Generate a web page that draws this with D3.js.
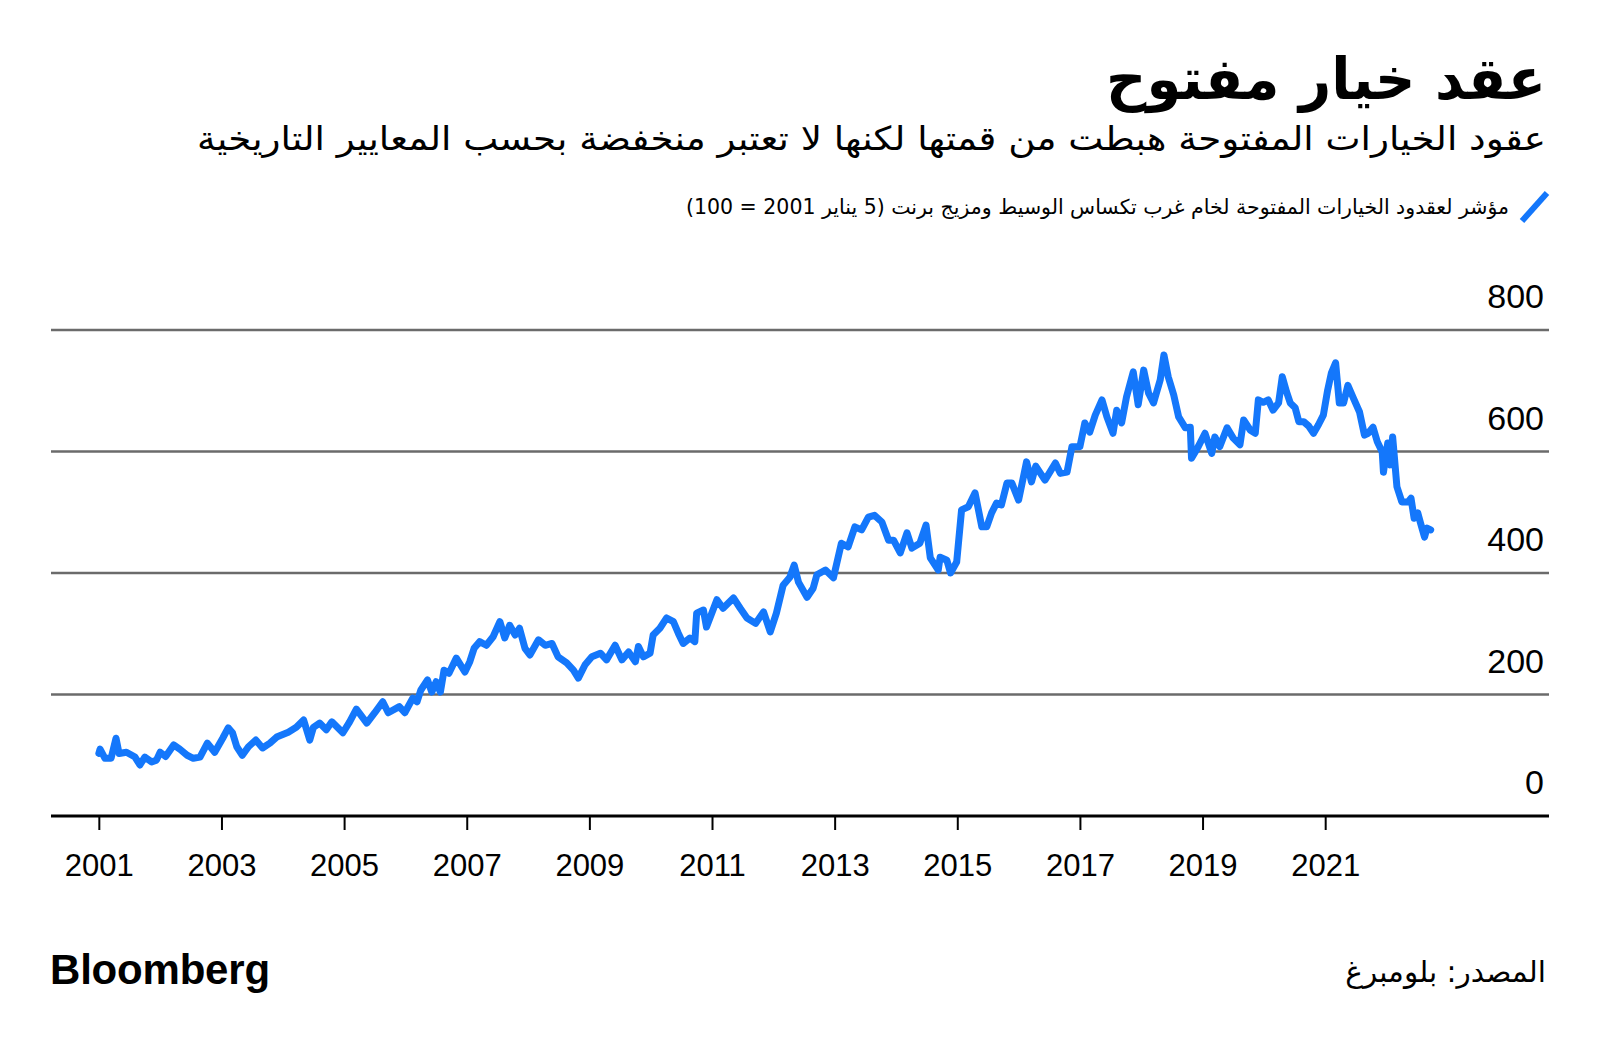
<!DOCTYPE html>
<html>
<head>
<meta charset="utf-8">
<script src="https://cdn.jsdelivr.net/npm/d3@7"></script>
<style>
  body { margin: 0; background: #fff; }
  svg { display: block; }
</style>
</head>
<body>
<div id="chart"></div>
<script>
// open interest index, WTI + Brent (5 Jan 2001 = 100)
const dates = [
  2001.00, 2001.02, 2001.10, 2001.20, 2001.28, 2001.33, 2001.45, 2001.59, 2001.67, 2001.75,
  2001.86, 2001.94, 2002.00, 2002.09, 2002.22, 2002.32, 2002.44, 2002.54, 2002.65, 2002.77,
  2002.89, 2003.02, 2003.11, 2003.18, 2003.25, 2003.34, 2003.44, 2003.56, 2003.67, 2003.79,
  2003.90, 2004.09, 2004.22, 2004.34, 2004.44, 2004.50, 2004.60, 2004.71, 2004.80, 2004.98,
  2005.09, 2005.20, 2005.37, 2005.50, 2005.63, 2005.72, 2005.90, 2005.99, 2006.12, 2006.19,
  2006.25, 2006.36, 2006.43, 2006.50, 2006.57, 2006.63, 2006.71, 2006.83, 2006.97, 2007.05,
  2007.12, 2007.21, 2007.32, 2007.43, 2007.54, 2007.62, 2007.70, 2007.79, 2007.86, 2007.95,
  2008.03, 2008.17, 2008.28, 2008.39, 2008.49, 2008.63, 2008.74, 2008.82, 2008.93, 2009.04,
  2009.18, 2009.28, 2009.42, 2009.53, 2009.64, 2009.75, 2009.80, 2009.88, 2009.99, 2010.04,
  2010.15, 2010.26, 2010.37, 2010.45, 2010.53, 2010.64, 2010.72, 2010.75, 2010.86, 2010.91,
  2011.08, 2011.18, 2011.35, 2011.46, 2011.57, 2011.71, 2011.84, 2011.95, 2012.05, 2012.16,
  2012.27, 2012.34, 2012.41, 2012.55, 2012.65, 2012.71, 2012.85, 2012.98, 2013.11, 2013.22,
  2013.33, 2013.44, 2013.55, 2013.65, 2013.77, 2013.88, 2013.96, 2014.07, 2014.18, 2014.26,
  2014.39, 2014.49, 2014.56, 2014.69, 2014.72, 2014.83, 2014.89, 2014.99, 2015.07, 2015.18,
  2015.29, 2015.40, 2015.48, 2015.56, 2015.64, 2015.72, 2015.81, 2015.89, 2016.00, 2016.13,
  2016.21, 2016.28, 2016.43, 2016.51, 2016.60, 2016.68, 2016.79, 2016.87, 2017.00, 2017.08,
  2017.16, 2017.25, 2017.36, 2017.44, 2017.54, 2017.60, 2017.68, 2017.76, 2017.87, 2017.95,
  2018.04, 2018.12, 2018.20, 2018.31, 2018.37, 2018.44, 2018.53, 2018.61, 2018.72, 2018.80,
  2018.82, 2018.93, 2019.04, 2019.15, 2019.20, 2019.28, 2019.40, 2019.50, 2019.61, 2019.67,
  2019.78, 2019.86, 2019.91, 2019.99, 2020.07, 2020.15, 2020.24, 2020.30, 2020.37, 2020.43,
  2020.51, 2020.57, 2020.65, 2020.73, 2020.81, 2020.89, 2020.97, 2021.04, 2021.10, 2021.17,
  2021.23, 2021.30, 2021.37, 2021.46, 2021.56, 2021.64, 2021.70, 2021.78, 2021.85, 2021.93,
  2021.95, 2022.02, 2022.06, 2022.10, 2022.17, 2022.25, 2022.35, 2022.40, 2022.45, 2022.51,
  2022.55, 2022.62, 2022.66, 2022.72
];
const values = [
  103, 110, 95, 95, 128, 103, 105, 97, 84, 97,
  89, 92, 105, 98, 117, 110, 100, 95, 97, 120,
  105, 128, 145, 137, 114, 100, 114, 125, 112, 120,
  130, 138, 146, 158, 125, 146, 153, 142, 155, 137,
  155, 176, 153, 170, 188, 170, 180, 170, 194, 188,
  207, 224, 204, 221, 204, 240, 235, 260, 237, 254,
  276, 287, 281, 295, 320, 293, 314, 298, 309, 276,
  265, 290, 281, 284, 262, 252, 240, 227, 249, 262,
  268, 257, 281, 257, 270, 254, 279, 262, 268, 298,
  309, 326, 320, 301, 284, 293, 287, 334, 339, 311,
  356, 342, 359, 342, 326, 317, 336, 303, 334, 380,
  393, 413, 385, 360, 375, 397, 405, 392, 449, 443,
  476, 471, 492, 495, 484, 454, 454, 433, 466, 441,
  449, 479, 425, 405, 426, 421, 400, 418, 504, 509,
  532, 476, 476, 499, 515, 512, 548, 548, 520, 583,
  550, 576, 553, 566, 581, 564, 566, 608, 608, 647,
  632, 660, 685, 657, 630, 668, 647, 690, 731, 677,
  734, 696, 680, 718, 759, 723, 693, 657, 639, 640,
  589, 608, 630, 597, 624, 608, 639, 622, 611, 652,
  635, 630, 685, 681, 685, 668, 680, 723, 698, 680,
  672, 649, 649, 642, 630, 644, 660, 701, 729, 746,
  680, 680, 709, 688, 665, 627, 630, 640, 616, 599,
  566, 614, 578, 624, 542, 517, 517, 523, 490, 499,
  484, 459, 474, 471
];
const yTicks = [0, 200, 400, 600, 800];
const xTicks = [2001, 2003, 2005, 2007, 2009, 2011, 2013, 2015, 2017, 2019, 2021];

const title = "عقد خيار مفتوح";
const subtitle = "عقود الخيارات المفتوحة هبطت من قمتها لكنها لا تعتبر منخفضة بحسب المعايير التاريخية";
const legendLabel = "مؤشر لعقدود الخيارات المفتوحة لخام غرب تكساس الوسيط ومزيج برنت (5 يناير 2001 = 100)";
const source = "المصدر: بلومبرغ";

const width = 1600, height = 1050;
const plotLeft = 51, plotRight = 1549, plotTop = 330, plotBottom = 816;
const blue = "#1477fb";
const arabic = "'DejaVu Sans', 'Noto Sans', sans-serif";
const latin = "'Liberation Sans', Arial, sans-serif";

const svg = d3.select("#chart").append("svg")
  .attr("width", width)
  .attr("height", height);

const x = d3.scaleLinear().domain([2000.22, 2024.65]).range([plotLeft, plotRight]);
const y = d3.scaleLinear().domain([0, 800]).range([plotBottom, plotTop]);

// header -- the original arabic face is condensed, so squeeze/stretch to its width
svg.append("text")
  .attr("x", 1546).attr("y", 99)
  .attr("direction", "rtl").attr("text-anchor", "start")
  .attr("textLength", 440).attr("lengthAdjust", "spacingAndGlyphs")
  .style("font-family", arabic).style("font-weight", "bold")
  .style("font-size", "58px")
  .text(title);

svg.append("text")
  .attr("x", 1546).attr("y", 150)
  .attr("direction", "rtl").attr("text-anchor", "start")
  .attr("textLength", 1349).attr("lengthAdjust", "spacingAndGlyphs")
  .style("font-family", arabic)
  .style("font-size", "33px")
  .text(subtitle);

// legend
svg.append("line")
  .attr("x1", 1522).attr("y1", 221)
  .attr("x2", 1547).attr("y2", 193)
  .attr("stroke", blue).attr("stroke-width", 6);

svg.append("text")
  .attr("x", 1509).attr("y", 214)
  .attr("direction", "rtl").attr("text-anchor", "start")
  .style("font-family", arabic)
  .style("font-size", "20.5px")
  .text(legendLabel);

// grid
const grid = svg.append("g");
grid.selectAll("line")
  .data(yTicks.filter(d => d > 0))
  .join("line")
  .attr("x1", plotLeft).attr("x2", plotRight)
  .attr("y1", d => y(d)).attr("y2", d => y(d))
  .attr("stroke", "#6b6b6b").attr("stroke-width", 2.5);

grid.selectAll("text")
  .data(yTicks)
  .join("text")
  .attr("x", 1544).attr("y", d => y(d) - 22)
  .attr("text-anchor", "end")
  .style("font-family", latin)
  .style("font-size", "34px")
  .text(d => d);

// x axis
const xAxis = d3.axisBottom(x)
  .tickValues(xTicks)
  .tickFormat(d3.format("d"))
  .tickSize(14)
  .tickPadding(24);

const gx = svg.append("g")
  .attr("transform", `translate(0,${plotBottom})`)
  .call(xAxis);
gx.select(".domain").remove();
gx.selectAll(".tick line").attr("stroke", "#000").attr("stroke-width", 2);
gx.selectAll(".tick text")
  .style("font-family", latin)
  .style("font-size", "31px")
  .attr("fill", "#000");

svg.append("line")
  .attr("x1", plotLeft).attr("x2", plotRight)
  .attr("y1", plotBottom).attr("y2", plotBottom)
  .attr("stroke", "#000").attr("stroke-width", 3);

// the series
const line = d3.line()
  .x(i => x(dates[i]))
  .y(i => y(values[i]));

svg.append("path")
  .datum(d3.range(dates.length))
  .attr("d", line)
  .attr("fill", "none")
  .attr("stroke", blue)
  .attr("stroke-width", 7)
  .attr("stroke-linejoin", "round")
  .attr("stroke-linecap", "round");

// footer
svg.append("text")
  .attr("x", 50).attr("y", 984)
  .style("font-family", latin).style("font-weight", "bold")
  .style("font-size", "42px").style("letter-spacing", "-0.2px")
  .text("Bloomberg");

svg.append("text")
  .attr("x", 1546).attr("y", 982)
  .attr("direction", "rtl").attr("text-anchor", "start")
  .style("font-family", arabic)
  .style("font-size", "29.5px")
  .text(source);
</script>
</body>
</html>
